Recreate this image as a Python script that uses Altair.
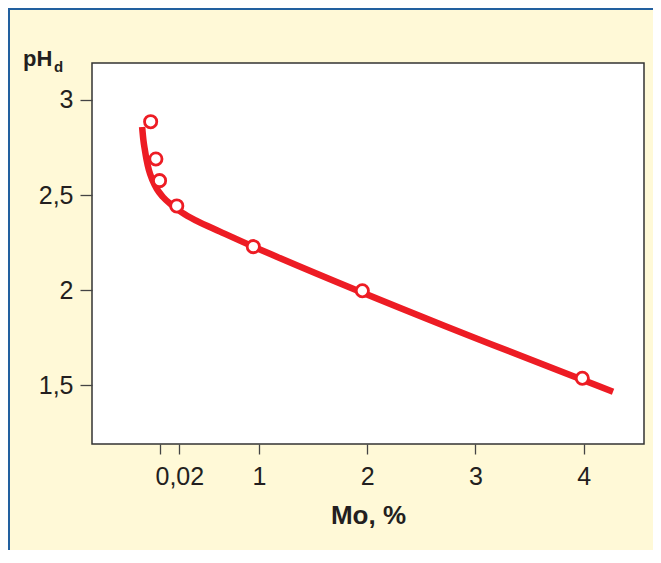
import altair as alt
import pandas as pd

# measured points (Mo %, pH_d)
mo_points = [0.0052, 0.0079, 0.0098, 0.0187, 0.93, 1.955, 3.988]
ph_points = [2.886, 2.690, 2.576, 2.443, 2.229, 1.997, 1.537]

# fitted curve
mo_curve = [0.0008, 0.00144, 0.00222, 0.0031, 0.00429, 0.00611, 0.00844, 0.01155,
            0.01606, 0.0495, 0.234, 0.520, 0.930, 1.164, 4.272]
ph_curve = [2.858, 2.790, 2.737, 2.685, 2.632, 2.579, 2.532, 2.490,
            2.448, 2.409, 2.364, 2.308, 2.229, 2.176, 1.466]

x_ticks = [0.01, 0.02, 1, 2, 3, 4]
y_ticks = [1.5, 2, 2.5, 3]

pts = pd.DataFrame({"mo": mo_points, "ph": ph_points})
curve = pd.DataFrame({"mo": mo_curve, "ph": ph_curve, "o": list(range(len(mo_curve)))})

W, H = 552, 381
RED = "#ed1c24"
INK = "#231f20"
FONT = "Liberation Sans"

xscale = alt.Scale(domain=[-0.0251, 0.02, 1, 4.558], range=[0, 87.3, 167, W],
                   nice=False, zero=False)
yscale = alt.Scale(domain=[1.1914, 3.1945], nice=False, zero=False)

xaxis = alt.Axis(values=x_ticks, domain=False, grid=False, tickSize=10, tickWidth=1.3,
                 tickColor="#444",
                 labelExpr="datum.value == 0.01 ? '' : (datum.value == 0.02 ? '0,02' : format(datum.value, 'd'))",
                 labelFontSize=25, labelColor=INK, labelFont=FONT, labelPadding=10,
                 title="Mo, %", titleFontSize=26, titleFont=FONT, titleFontWeight="bold",
                 titleColor=INK, titleBaseline="alphabetic", titleY=79, titleX=W / 2)
yaxis = alt.Axis(values=y_ticks, domain=False, grid=False, tickSize=12, tickWidth=1.3,
                 tickColor="#444",
                 labelExpr="replace(format(datum.value, '~g'), '.', ',')",
                 labelFontSize=25, labelColor=INK, labelFont=FONT, labelPadding=7,
                 title=None)

line = alt.Chart(curve).mark_line(color=RED, strokeWidth=6.5, interpolate="monotone").encode(
    x=alt.X("mo:Q", scale=xscale, axis=xaxis),
    y=alt.Y("ph:Q", scale=yscale, axis=yaxis),
    order="o:Q",
)

points = alt.Chart(pts).mark_point(shape="circle", filled=True, fill="white", stroke=RED,
                                   strokeWidth=2.8, size=150, opacity=1).encode(
    x=alt.X("mo:Q", scale=xscale),
    y=alt.Y("ph:Q", scale=yscale),
)

ph_title = alt.Chart(pd.DataFrame({"t": ["pH"]})).mark_text(
    align="left", baseline="alphabetic", fontSize=22, fontWeight="bold", font=FONT, color=INK
).encode(text="t:N", x=alt.value(-69), y=alt.value(3))

ph_sub = alt.Chart(pd.DataFrame({"t": ["d"]})).mark_text(
    align="left", baseline="alphabetic", fontSize=15, fontWeight="bold", font=FONT, color=INK
).encode(text="t:N", x=alt.value(-38), y=alt.value(9))

border_left = alt.Chart(pd.DataFrame({"a": [0]})).mark_rule(color="#22609f", strokeWidth=2).encode(
    x=alt.value(-83), y=alt.value(-56), y2=alt.value(H + 130))
border_top = alt.Chart(pd.DataFrame({"a": [0]})).mark_rule(color="#22609f", strokeWidth=2).encode(
    y=alt.value(-54), x=alt.value(-84), x2=alt.value(W + 30))

chart = alt.layer(line, points, ph_title, ph_sub, border_left, border_top).properties(
    width=W, height=H,
    background="#fff9d7",
    padding={"left": 84, "top": 55, "right": 9, "bottom": 106},
    autosize=alt.AutoSizeParams(type="none"),
).configure_view(stroke="#333333", strokeWidth=1.5, fill="white")

chart.save("out.html", embed_options={"renderer": "svg", "actions": False})
